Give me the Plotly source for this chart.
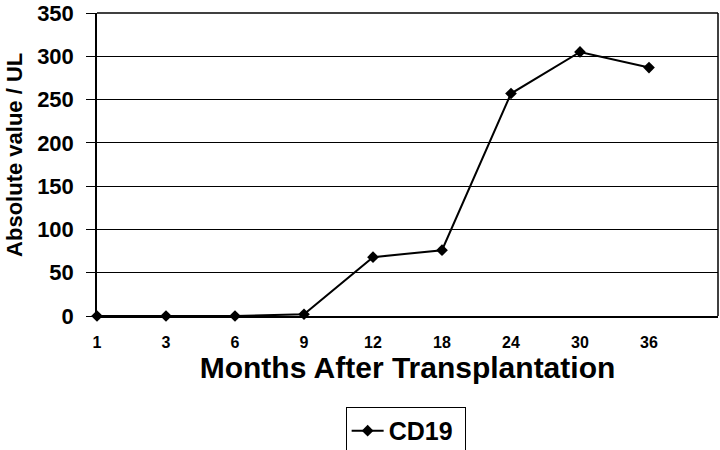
import plotly.graph_objects as go

months = ["1", "3", "6", "9", "12", "18", "24", "30", "36"]
cd19 = [0, 0, 0, 2, 68, 76, 257, 305, 287]
y_ticks = [0, 50, 100, 150, 200, 250, 300, 350]

FONT = "Liberation Sans, Arial, sans-serif"

fig = go.Figure()
fig.add_trace(go.Scatter(
    x=months, y=cd19, name="CD19&nbsp;", mode="lines+markers",
    line=dict(color="black", width=2),
    marker=dict(symbol="diamond", size=9, color="black"),
    cliponaxis=False,
))

fig.update_layout(
    width=720, height=450,
    margin=dict(l=97, r=2, t=13, b=134, autoexpand=False),
    paper_bgcolor="white", plot_bgcolor="white",
    font=dict(family=FONT, color="black"),
    showlegend=True,
    legend=dict(
        x=0.497, y=-0.30, xanchor="center", yanchor="top",
        bordercolor="black", borderwidth=1, bgcolor="white",
        font=dict(size=25, family=FONT, color="black", weight="bold"),
        itemwidth=32,
    ),
    xaxis=dict(
        type="category", range=[0, 9], automargin=False,
        showgrid=False, showline=True, linecolor="black", linewidth=1.5,
        mirror=False, ticks="", zeroline=False, ticklabelstandoff=11,
        tickfont=dict(size=16, family=FONT, weight="bold"),
        title=dict(text="Months After Transplantation",
                   font=dict(size=30, family=FONT, weight="bold"), standoff=2),
    ),
    yaxis=dict(
        range=[0, 350.01], tickvals=y_ticks, automargin=False,
        showgrid=True, gridcolor="black", gridwidth=1.3,
        showline=True, linecolor="black", linewidth=1.5,
        ticks="outside", ticklen=9, tickcolor="black", tickwidth=1.3,
        zeroline=False, ticklabelstandoff=8, ticklabeloverflow="allow",
        tickfont=dict(size=22, family=FONT, weight="bold"),
    ),
    annotations=[dict(
        text="Absolute value / UL", textangle=-90, showarrow=False,
        xref="paper", yref="paper", x=-0.134, y=0.531,
        xanchor="center", yanchor="middle",
        font=dict(size=22, family=FONT, weight="bold", color="black"),
    )],
)
# right and top border of plot area
fig.add_shape(type="line", xref="paper", yref="paper", x0=1, x1=1, y0=0, y1=1,
              line=dict(color="black", width=1.5))
fig.add_shape(type="line", xref="paper", yref="paper", x0=0, x1=1, y0=1, y1=1,
              line=dict(color="black", width=1.5))

fig.write_html("out.html", config={"displayModeBar": False},
               post_script="document.body.style.margin='0';")
